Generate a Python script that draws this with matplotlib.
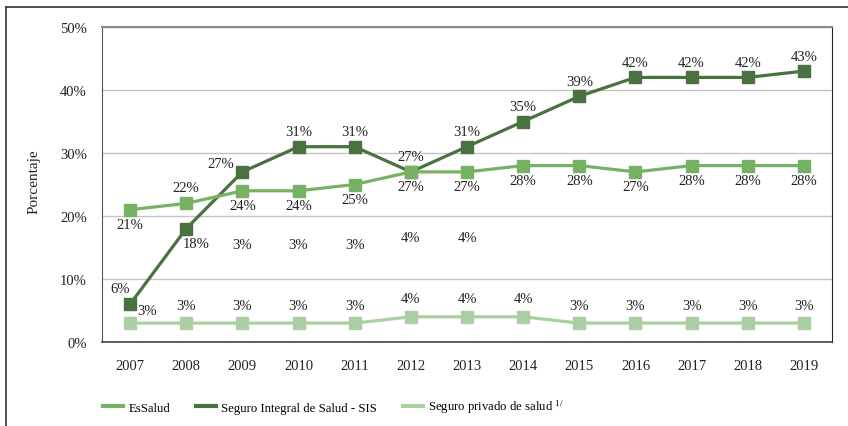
import matplotlib.pyplot as plt
from matplotlib.lines import Line2D

plt.rcParams['font.family'] = ['Liberation Serif', 'DejaVu Serif']
plt.rcParams['mathtext.fontset'] = 'stix'

# Data
years = ['2007', '2008', '2009', '2010', '2011', '2012', '2013',
         '2014', '2015', '2016', '2017', '2018', '2019']
essalud = [21, 22, 24, 24, 25, 27, 27, 28, 28, 27, 28, 28, 28]
sis = [6, 18, 27, 31, 31, 27, 31, 35, 39, 42, 42, 42, 43]
privado = [3, 3, 3, 3, 3, 4, 4, 4, 3, 3, 3, 3, 3]
# stray labels floating in the original chart
stray_years = ['2009', '2010', '2011', '2012', '2013']
stray_vals = [3, 3, 3, 4, 4]

c_es = '#77b264'
c_sis = '#4a7240'
c_priv = '#abcfa2'

W, H = 848, 427
fig = plt.figure(figsize=(W / 100, H / 100), dpi=100)
ax = fig.add_axes([102 / W, 1 - 343 / H, (832 - 102) / W, (343 - 28) / H])

x = list(range(len(years)))
lw, ms = 2.3, 8.6

ax.plot(x, sis, color=c_sis, lw=lw, marker='s', ms=ms, zorder=3)
ax.plot(x, essalud, color=c_es, lw=lw, marker='s', ms=ms, zorder=4)
ax.plot(x, privado, color=c_priv, lw=lw, marker='s', ms=ms, zorder=3)

fs = 10.5
px = 0.72  # pixel -> points


def lab(xi, v, dx, dy):
    ax.annotate(f'{v}%', (xi, v), xytext=(dx * px, dy * px), textcoords='offset points',
                ha='center', va='center', fontsize=fs, color='#222222', zorder=6)


for i, v in enumerate(essalud):
    lab(i, v, 0, 16 if i == 1 else -15)

for i, v in enumerate(sis):
    if i == 0:
        lab(i, v, -10, 16)
    elif i == 1:
        lab(i, v, 10, -15)
    elif i == 2:
        lab(i, v, -22, 8)
    else:
        lab(i, v, 0, 15)

for i, v in enumerate(privado):
    if i == 0:
        lab(i, v, 17, 13)
    else:
        lab(i, v, 0, 18)

for yr, v in zip(stray_years, stray_vals):
    ax.text(years.index(yr), 15.5 if v == 3 else 16.6, f'{v}%', ha='center', va='center',
            fontsize=fs, color='#222222')

ax.set_xlim(-0.5, len(years) - 0.5)
ax.set_ylim(0, 50)
ax.set_yticks([0, 10, 20, 30, 40, 50])
ax.set_yticklabels([f'{t}%' for t in [0, 10, 20, 30, 40, 50]])
ax.set_xticks(x)
ax.set_xticklabels(years)
ax.tick_params(axis='both', length=0, labelsize=fs, colors='#222222')
ax.tick_params(axis='y', pad=11)
ax.tick_params(axis='x', pad=12)
ax.yaxis.grid(True, color='#c4c4c4', lw=1)
ax.set_axisbelow(True)

ax.spines['top'].set_color('#8a8a8a')
ax.spines['top'].set_linewidth(1.5)
ax.spines['left'].set_color('#555555')
ax.spines['bottom'].set_color('#444444')
ax.spines['bottom'].set_linewidth(1.2)
ax.spines['right'].set_color('#222222')

fig.text(34 / W, 1 - 182 / H, 'Porcentaje', rotation=90, ha='center', va='center',
         fontsize=11, color='#222222')

handles = [Line2D([], [], color=c_es, lw=3),
           Line2D([], [], color=c_sis, lw=3),
           Line2D([], [], color=c_priv, lw=3)]
labels = ['EsSalud', 'Seguro Integral de Salud - SIS',
          r'Seguro privado de salud $^{\mathregular{1/}}$']
fig.legend(handles, labels, loc='center left', bbox_to_anchor=(103 / W, 1 - 408 / H),
           ncol=3, frameon=False, fontsize=9.2, handlelength=1.6, handletextpad=0.4,
           columnspacing=2.0, borderpad=0, borderaxespad=0)

# outer frame
fig.add_artist(Line2D([6 / W, 6 / W], [0, 1 - 8 / H], transform=fig.transFigure,
                      color='#333333', lw=1.2))
fig.add_artist(Line2D([6 / W, 1], [1 - 8 / H, 1 - 8 / H], transform=fig.transFigure,
                      color='#333333', lw=1.2))

fig.savefig('out.png', dpi=100)
